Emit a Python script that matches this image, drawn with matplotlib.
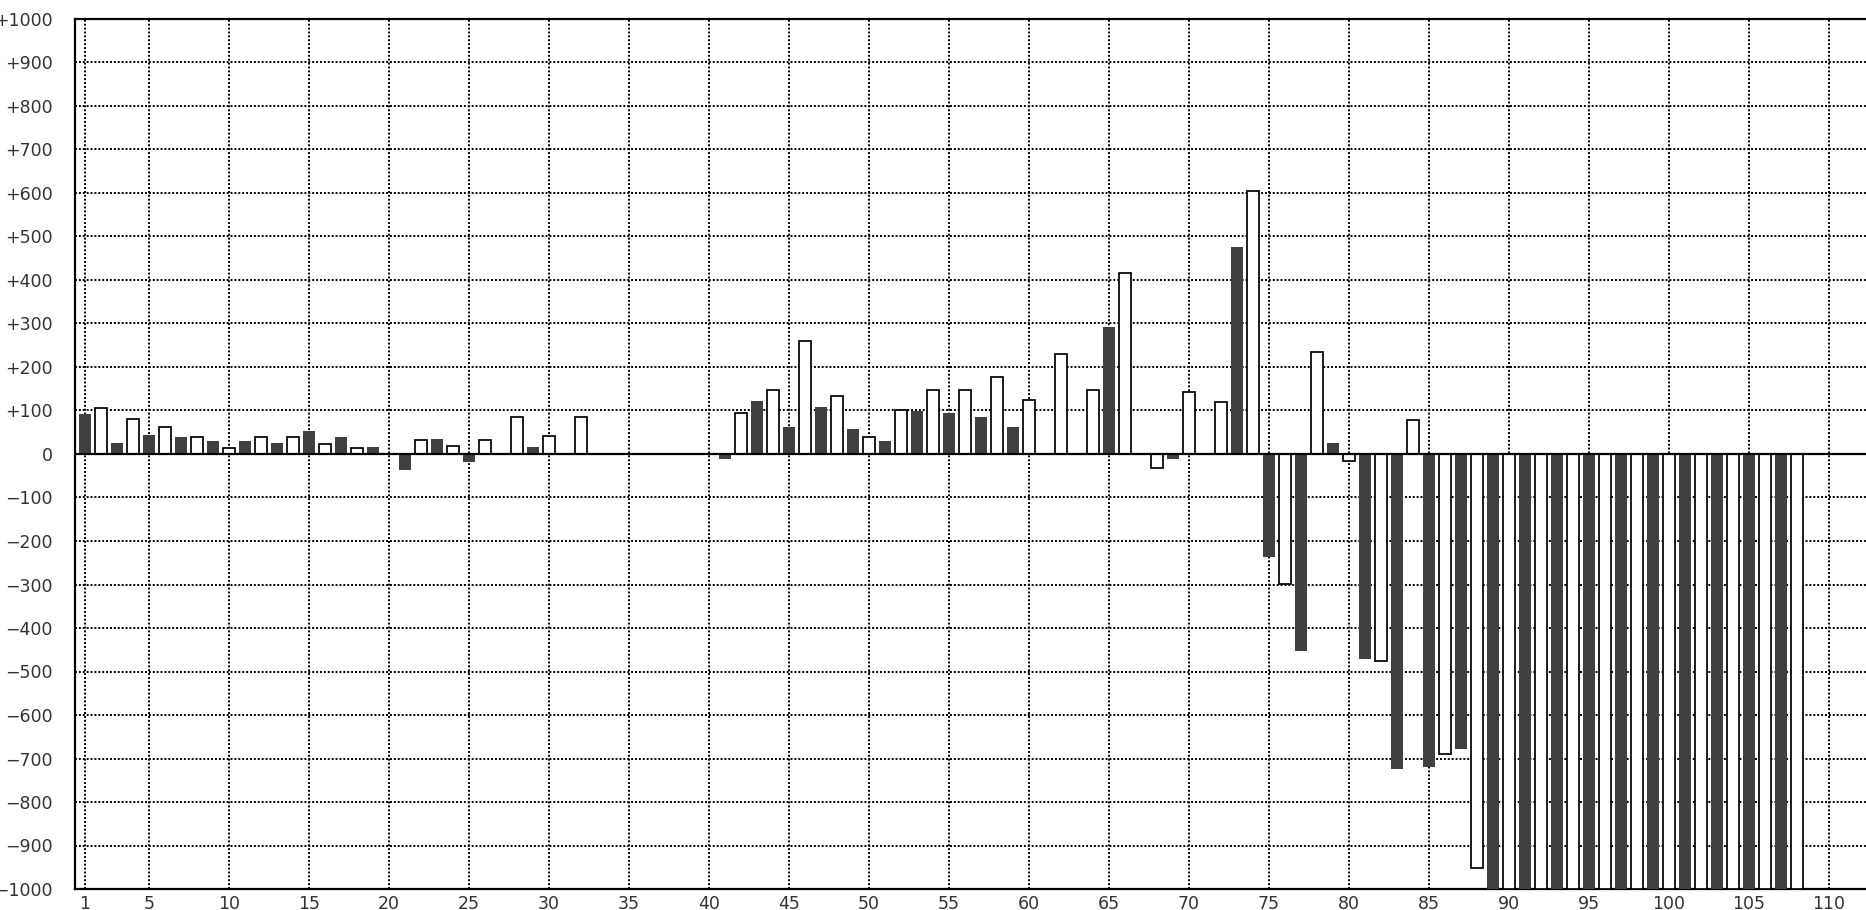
import matplotlib
matplotlib.use("Agg")
import matplotlib.pyplot as plt
import numpy as np

# Series 1 (dark bars) at odd positions 1, 3, ..., 109
dark_values = [93, 25, 44, 39, 30, 30, 25, 54, 39, 15,
               -37, 34, -18, 0, 15, 0, 0, 0, 0, 0,
               -11, 122, 62, 108, 58, 30, 99, 94, 85, 62,
               0, 0, 292, 0, -12, 0, 477, -236, -453, 25,
               -471, -724, -720, -678, -1000, -1000, -1000, -1000, -1000, -1000,
               -1000, -1000, -1000, -1000, 0]
# Series 2 (white bars) at even positions 2, 4, ..., 110
white_values = [105, 81, 62, 38, 14, 38, 38, 23, 14, 0,
                33, 19, 33, 86, 42, 86, 0, 0, 0, 0,
                95, 148, 259, 134, 38, 102, 148, 148, 176, 125,
                231, 148, 415, -33, 143, 120, 604, -299, 235, -15,
                -475, 78, -690, -951, -1000, -1000, -1000, -1000, -1000, -1000,
                -1000, -1000, -1000, -1000, 0]

x_ticks = [1, 5, 10, 15, 20, 25, 30, 35, 40, 45, 50, 55, 60, 65, 70, 75, 80,
           85, 90, 95, 100, 105, 110]
y_ticks = [-1000, -900, -800, -700, -600, -500, -400, -300, -200, -100, 0,
           100, 200, 300, 400, 500, 600, 700, 800, 900, 1000]


def fmt(v):
    if v > 0:
        return "+%d" % v
    if v < 0:
        return "\u2212%d" % abs(v)
    return "0"


y_labels = [fmt(v) for v in y_ticks]

dark_x = np.arange(1, 2 * len(dark_values), 2)
white_x = np.arange(2, 2 * len(white_values) + 1, 2)

fig = plt.figure(figsize=(18.66, 9.10), dpi=100)
ax = fig.add_axes([75 / 1866, 21 / 910, 1 - 75 / 1866, 870 / 910])

ax.set_axisbelow(True)
ax.grid(True, color="black", linestyle=(0, (1, 1)), linewidth=1.4)

ax.bar(dark_x, dark_values, width=0.75, color="#404040", edgecolor="none",
       zorder=3)
ax.bar(white_x, white_values, width=0.69, color="white", edgecolor="black",
       linewidth=1.25, zorder=3)
ax.axhline(0, color="black", linewidth=1.6, zorder=4)

ax.set_xlim(0.375, 0.375 + (1866 - 75) / 16)
ax.set_ylim(-1000, 1000)
ax.set_xticks(x_ticks)
ax.set_xticklabels([str(t) for t in x_ticks])
ax.set_yticks(y_ticks)
ax.set_yticklabels(y_labels)

ax.tick_params(axis="both", length=0, labelsize=12.5, labelcolor="#333333")
ax.tick_params(axis="x", pad=4)
ax.tick_params(axis="y", pad=16)

for side in ["left", "bottom", "top"]:
    ax.spines[side].set_linewidth(1.6)
    ax.spines[side].set_color("black")
ax.spines["right"].set_visible(False)

fig.savefig("out.png", dpi=100)
